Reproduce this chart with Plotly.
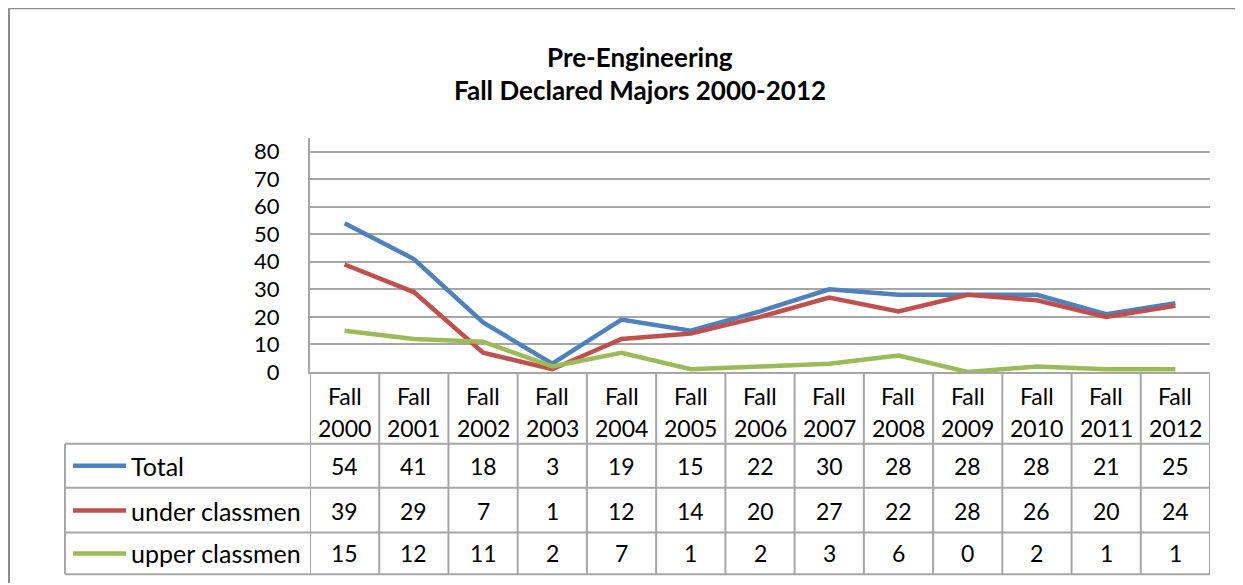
import plotly.graph_objects as go

# ---------------- data ----------------
categories = ["Fall 2000", "Fall 2001", "Fall 2002", "Fall 2003", "Fall 2004", "Fall 2005",
              "Fall 2006", "Fall 2007", "Fall 2008", "Fall 2009", "Fall 2010", "Fall 2011", "Fall 2012"]
total = [54, 41, 18, 3, 19, 15, 22, 30, 28, 28, 28, 21, 25]
under_classmen = [39, 29, 7, 1, 12, 14, 20, 27, 22, 28, 26, 20, 24]
upper_classmen = [15, 12, 11, 2, 7, 1, 2, 3, 6, 0, 2, 1, 1]
y_ticks = [0, 10, 20, 30, 40, 50, 60, 70, 80]

series = [
    ("Total", total, "#4F81BD"),
    ("under classmen", under_classmen, "#C0504D"),
    ("upper classmen", upper_classmen, "#9BBB59"),
]

# page body keeps its 8px margin; the snapshot comes out squeezed a bit vertically, so compensate
OFF = 8
SY = 0.981
W, H = 1243 - 2 * OFF, 588
FONT = "Lato"
GRID = "#A6A6A6"
FS = 23


def px_x(x):
    return (x - OFF) / W


def px_y(y):
    return 1 - (y / SY - OFF) / H


def txt(x, y, text, xref="paper", size=FS, xanchor="center"):
    return dict(x=x, y=y, xref=xref, yref="paper", text=text, showarrow=False,
                xanchor=xanchor, yanchor="middle",
                font=dict(size=size, color="black", family=FONT))


fig = go.Figure()
for name, vals, col in series:
    fig.add_trace(go.Scatter(x=categories, y=vals, mode="lines", name=name,
                             line=dict(color=col, width=4.5), showlegend=False))

# ---------------- table below the plot ----------------
shapes = []
annotations = []

# outer chart border (top + left)
shapes.append(dict(type="line", xref="paper", yref="paper", x0=px_x(9), x1=1, y0=px_y(8), y1=px_y(8),
                   line=dict(color="#8C8C8C", width=2)))
shapes.append(dict(type="line", xref="paper", yref="paper", x0=px_x(9), x1=px_x(9), y0=px_y(8), y1=0,
                   line=dict(color="#8C8C8C", width=2)))

header_top, header_bot = 373, 445
row_lines = [445, 489, 534, 576]
row_centers = [467, 512, 555]

# vertical column lines (category boundaries)
for i in range(len(categories) + 1):
    shapes.append(dict(type="line", xref="x", yref="paper", x0=i - 0.5, x1=i - 0.5,
                       y0=px_y(header_top), y1=px_y(row_lines[-1]), line=dict(color=GRID, width=2)))
# legend column left edge
shapes.append(dict(type="line", xref="paper", yref="paper", x0=px_x(65), x1=px_x(65),
                   y0=px_y(row_lines[0]), y1=px_y(row_lines[-1]), line=dict(color=GRID, width=2)))
# horizontal row lines
for y in row_lines:
    shapes.append(dict(type="line", xref="paper", yref="paper", x0=px_x(65), x1=px_x(1210),
                       y0=px_y(y), y1=px_y(y), line=dict(color=GRID, width=2)))

# header labels (two lines)
for c in categories:
    first, second = c.split(" ")
    annotations.append(txt(c, px_y(397), first, xref="x"))
    annotations.append(txt(c, px_y(429), second, xref="x"))

# value rows with legend keys
for (name, vals, col), yc in zip(series, row_centers):
    shapes.append(dict(type="line", xref="paper", yref="paper", x0=px_x(73), x1=px_x(126),
                       y0=px_y(yc), y1=px_y(yc), line=dict(color=col, width=4.5)))
    annotations.append(txt(px_x(129), px_y(yc), name, xanchor="left", size=25))
    for c, v in zip(categories, vals):
        annotations.append(txt(c, px_y(yc), str(v), xref="x"))

# title
annotations.append(txt(px_x(640), px_y(57), "<b>Pre-Engineering</b>", size=26))
annotations.append(txt(px_x(640), px_y(90), "<b>Fall Declared Majors 2000-2012</b>", size=26))

fig.update_layout(
    width=W, height=H,
    margin=dict(l=0, r=0, t=0, b=0),
    paper_bgcolor="white", plot_bgcolor="white",
    xaxis=dict(domain=[px_x(310), px_x(1210)], range=[-0.5, 12.5], type="category",
               showticklabels=False, showgrid=False, showline=True, linecolor=GRID, linewidth=2,
               zeroline=False),
    yaxis=dict(domain=[px_y(373), px_y(138)], range=[0, 85], tickvals=y_ticks,
               showgrid=True, gridcolor=GRID, gridwidth=2, showline=True, linecolor=GRID, linewidth=2,
               zeroline=False, ticklabelstandoff=24,
               tickfont=dict(size=22, color="black", family=FONT)),
    shapes=shapes,
    annotations=annotations,
)

fig.write_html("out.html")
